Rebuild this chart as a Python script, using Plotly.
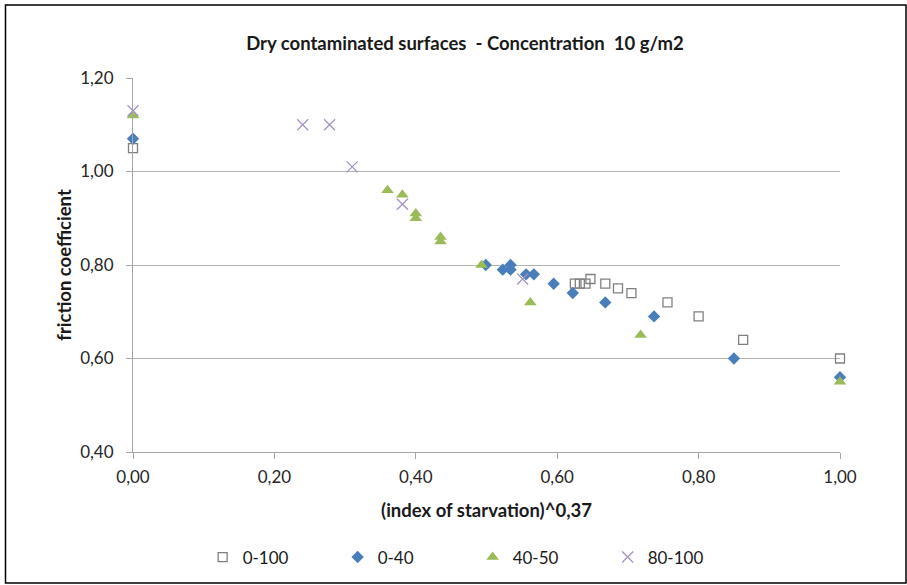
import plotly.graph_objects as go

# ---- data ----
x_0_100 = [0.0, 0.625, 0.632, 0.640, 0.647, 0.668, 0.686, 0.705, 0.756, 0.800, 0.863, 1.000]
y_0_100 = [1.05, 0.76, 0.76, 0.76, 0.77, 0.76, 0.75, 0.74, 0.72, 0.69, 0.64, 0.60]

x_0_40 = [0.0, 0.499, 0.523, 0.534, 0.534, 0.556, 0.567, 0.595, 0.622, 0.668, 0.737, 0.850, 1.000]
y_0_40 = [1.07, 0.80, 0.79, 0.80, 0.79, 0.78, 0.78, 0.76, 0.74, 0.72, 0.69, 0.60, 0.56]

x_40_50 = [0.0, 0.360, 0.381, 0.400, 0.400, 0.435, 0.435, 0.493, 0.562, 0.718, 1.000]
y_40_50 = [1.12, 0.96, 0.95, 0.91, 0.90, 0.86, 0.85, 0.80, 0.72, 0.65, 0.55]

x_80_100 = [0.0, 0.240, 0.278, 0.310, 0.381, 0.551]
y_80_100 = [1.13, 1.10, 1.10, 1.01, 0.93, 0.77]

x_ticks = [0.0, 0.2, 0.4, 0.6, 0.8, 1.0]
x_tick_labels = ["0,00", "0,20", "0,40", "0,60", "0,80", "1,00"]
y_ticks = [0.4, 0.6, 0.8, 1.0, 1.2]
y_tick_labels = ["0,40", "0,60", "0,80", "1,00", "1,20"]

FONT = "Lato, 'Open Sans', sans-serif"
W, H = 907, 585
L, R, T, B = 133, 67, 78, 133

fig = go.Figure()
fig.add_trace(go.Scatter(
    x=x_0_100, y=y_0_100, mode="markers", name="0-100",
    marker=dict(symbol="square-open", size=9, color="#808080", line=dict(width=1.3, color="#808080")),
    cliponaxis=False))
fig.add_trace(go.Scatter(
    x=x_0_40, y=y_0_40, mode="markers", name="0-40",
    marker=dict(symbol="diamond", size=9.5, color="#4a7ebb"),
    cliponaxis=False))
fig.add_trace(go.Scatter(
    x=x_40_50, y=y_40_50, mode="markers", name="40-50",
    marker=dict(symbol="triangle-up", size=11, color="#9bbb59"),
    cliponaxis=False))
fig.add_trace(go.Scatter(
    x=x_80_100, y=y_80_100, mode="markers", name="80-100",
    marker=dict(symbol="x-thin-open", size=11, color="#a291c4", line=dict(width=1.2, color="#a291c4")),
    cliponaxis=False))

fig.update_layout(
    width=W, height=H,
    margin=dict(l=L, r=R, t=T, b=B, autoexpand=False),
    paper_bgcolor="white", plot_bgcolor="white",
    font=dict(family=FONT, size=17, color="#262626"),
    title=dict(text="<b>Dry contaminated surfaces  - Concentration  10 g/m2</b>",
               x=465 / W, xanchor="center", y=1 - 44 / H, yanchor="middle",
               font=dict(size=18.5, color="#1a1a1a")),
    showlegend=True,
    legend=dict(orientation="h", x=0.0985, xanchor="left", y=-0.2339, yanchor="top",
                font=dict(size=17, color="#1a1a1a"),
                entrywidth=90, entrywidthmode="pixels", bgcolor="rgba(0,0,0,0)"),
)

fig.update_xaxes(
    range=[0, 1.0], tickvals=x_ticks, ticktext=x_tick_labels,
    showgrid=False, zeroline=False,
    showline=True, linecolor="#a6a6a6", linewidth=1,
    ticks="outside", ticklen=6, tickcolor="#a6a6a6", ticklabelstandoff=4,
    title=dict(text="<b>(index of starvation)^0,37</b>", font=dict(size=18.5, color="#1a1a1a"), standoff=17),
)
fig.update_yaxes(
    range=[0.4, 1.2], tickvals=y_ticks, ticktext=y_tick_labels,
    showgrid=True, gridcolor="#b3b3b3", gridwidth=1, zeroline=False,
    showline=True, linecolor="#a6a6a6", linewidth=1,
    ticks="outside", ticklen=6, tickcolor="#a6a6a6", ticklabelstandoff=9,
    title=dict(text="<b>friction coefficient</b>", font=dict(size=18.5, color="#1a1a1a"), standoff=3),
)

# outer chart border (Excel chart area frame)
pw, ph = W - L - R, H - T - B
def px_x(p):
    return (p - L) / pw
def px_y(p):
    return (H - B - p) / ph
fig.add_shape(type="rect", xref="paper", yref="paper",
              x0=px_x(5.5), x1=px_x(906), y0=px_y(583), y1=px_y(5),
              line=dict(color="#000000", width=1.5), fillcolor="rgba(0,0,0,0)", layer="below")

fig.write_html("out.html", config={"displayModeBar": False},
               post_script="document.body.style.margin='0';document.body.style.overflow='hidden';")
